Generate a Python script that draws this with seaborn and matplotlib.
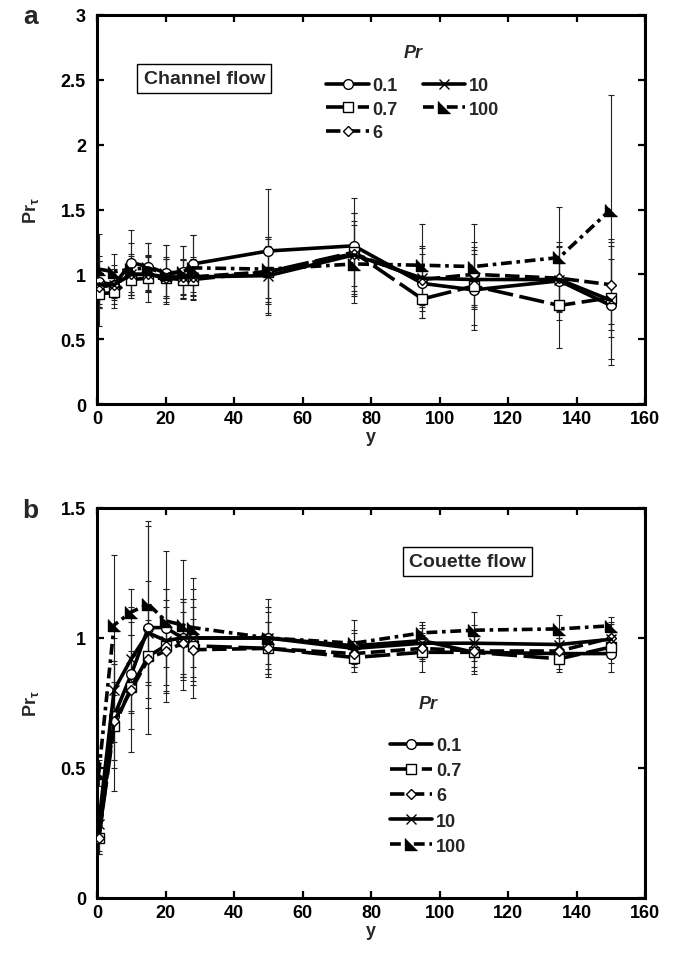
import numpy as np
import pandas as pd
import matplotlib
matplotlib.use("Agg")
import matplotlib.pyplot as plt
import seaborn as sns

# ---------------- data ----------------
pr_levels = ["0.1", "0.7", "6", "10", "100"]
y_pos = [0.5, 5, 10, 15, 20, 25, 28, 50, 75, 95, 110, 135, 150]

# (a) Channel flow
chan_01 = [0.94, 0.92, 1.09, 1.06, 1.01, 1.02, 1.08, 1.18, 1.22, 0.93, 0.88, 0.95, 0.76]
chan_07 = [0.85, 0.86, 0.96, 0.97, 0.97, 0.96, 0.96, 1.02, 1.17, 0.81, 0.91, 0.76, 0.82]
chan_6 = [0.90, 0.92, 1.00, 1.00, 0.97, 0.98, 0.98, 1.02, 1.16, 0.96, 1.00, 0.97, 0.92]
chan_10 = [0.92, 0.92, 1.00, 1.00, 0.98, 0.98, 0.98, 0.99, 1.15, 0.97, 0.96, 0.96, 0.80]
chan_100 = [1.04, 1.02, 1.04, 1.05, 1.00, 1.02, 1.05, 1.04, 1.08, 1.07, 1.06, 1.13, 1.50]

chan_err_01 = [0.20, 0.15, 0.25, 0.18, 0.22, 0.20, 0.22, 0.48, 0.37, 0.27, 0.31, 0.30, 0.46]
chan_err_07 = [0.25, 0.12, 0.14, 0.18, 0.15, 0.15, 0.15, 0.25, 0.30, 0.15, 0.30, 0.33, 0.30]
chan_err_6 = [0.15, 0.10, 0.16, 0.13, 0.15, 0.13, 0.14, 0.20, 0.25, 0.20, 0.25, 0.25, 0.35]
chan_err_10 = [0.18, 0.12, 0.14, 0.14, 0.15, 0.14, 0.15, 0.30, 0.32, 0.25, 0.20, 0.25, 0.45]
chan_err_100 = [0.27, 0.14, 0.20, 0.19, 0.23, 0.20, 0.25, 0.25, 0.30, 0.32, 0.33, 0.39, 0.88]

# (b) Couette flow
cou_01 = [0.23, 0.70, 0.86, 1.04, 1.04, 1.00, 1.00, 1.00, 0.97, 0.99, 0.945, 0.94, 0.94]
cou_07 = [0.23, 0.66, 0.81, 0.93, 0.97, 0.99, 0.97, 0.96, 0.925, 0.945, 0.945, 0.92, 0.965]
cou_6 = [0.23, 0.68, 0.80, 0.92, 0.95, 0.98, 0.955, 0.96, 0.94, 0.96, 0.95, 0.95, 1.00]
cou_10 = [0.285, 0.80, 0.92, 1.02, 0.99, 1.00, 1.00, 1.00, 0.96, 0.98, 0.98, 0.975, 0.995]
cou_100 = [0.48, 1.05, 1.10, 1.13, 1.066, 1.05, 1.04, 1.00, 0.98, 1.02, 1.03, 1.035, 1.047]

cou_err_01 = [0.06, 0.20, 0.15, 0.41, 0.15, 0.15, 0.23, 0.15, 0.06, 0.06, 0.085, 0.06, 0.07]
cou_err_07 = [0.06, 0.25, 0.25, 0.20, 0.15, 0.15, 0.15, 0.10, 0.055, 0.075, 0.07, 0.05, 0.06]
cou_err_6 = [0.05, 0.15, 0.15, 0.15, 0.195, 0.12, 0.12, 0.10, 0.05, 0.05, 0.06, 0.05, 0.06]
cou_err_10 = [0.06, 0.20, 0.20, 0.20, 0.20, 0.15, 0.15, 0.12, 0.06, 0.06, 0.07, 0.06, 0.06]
cou_err_100 = [0.05, 0.27, 0.09, 0.30, 0.27, 0.25, 0.15, 0.10, 0.09, 0.04, 0.07, 0.055, 0.035]

x_ticks = [0, 20, 40, 60, 80, 100, 120, 140, 160]
y_ticks_a = [0, 0.5, 1, 1.5, 2, 2.5, 3]
y_ticks_b = [0, 0.5, 1, 1.5]


def make_df(vals, errs):
    rows = []
    for lev, v, e in zip(pr_levels, vals, errs):
        for x, yy, ee in zip(y_pos, v, e):
            rows.append({"y": x, "Prt": yy, "err": ee, "Pr": lev})
    return pd.DataFrame(rows)


df_a = make_df([chan_01, chan_07, chan_6, chan_10, chan_100],
               [chan_err_01, chan_err_07, chan_err_6, chan_err_10, chan_err_100])
df_b = make_df([cou_01, cou_07, cou_6, cou_10, cou_100],
               [cou_err_01, cou_err_07, cou_err_6, cou_err_10, cou_err_100])

# ---------------- style ----------------
sns.set_theme(style="ticks")
plt.rcParams["font.family"] = ["Liberation Sans", "DejaVu Sans"]
plt.rcParams["font.weight"] = "bold"
plt.rcParams["mathtext.fontset"] = "custom"
plt.rcParams["mathtext.rm"] = "Liberation Sans:bold"
plt.rcParams["mathtext.it"] = "Liberation Sans:bold"
plt.rcParams["mathtext.bf"] = "Liberation Sans:bold"
plt.rcParams["mathtext.default"] = "bf"

tri = [(-1, 1), (-1, -1), (1, -1)]
styles = {
    "0.1": dict(linestyle="-", marker="o", markersize=7, markerfacecolor="white", linewidth=2.6),
    "0.7": dict(linestyle=(0, (7, 1.8)), marker="s", markersize=7, markerfacecolor="white", linewidth=2.6),
    "6": dict(linestyle=(0, (4, 1.5)), marker="D", markersize=5.5, markerfacecolor="white", linewidth=2.6),
    "10": dict(linestyle="-", marker="x", markersize=7, linewidth=2.6),
    "100": dict(linestyle=(0, (3, 1.3, 1, 1.3)), marker=tri, markersize=8, markerfacecolor="black", linewidth=2.6),
}

FS = 13
fig = plt.figure(figsize=(6.77, 9.62), dpi=100)
ax_a = fig.add_axes([97 / 677, 1 - 405 / 962, 548 / 677, 389 / 962])
ax_b = fig.add_axes([97 / 677, 1 - 899 / 962, 548 / 677, 390 / 962])


def draw(ax, df):
    handles = []
    for lev in pr_levels:
        sub = df[df["Pr"] == lev]
        ax.errorbar(sub["y"], sub["Prt"], yerr=sub["err"], fmt="none", ecolor="#222222",
                    elinewidth=0.8, capsize=2.5, capthick=0.8, zorder=1)
    for lev in pr_levels:
        sub = df[df["Pr"] == lev]
        sns.lineplot(data=sub, x="y", y="Prt", ax=ax, color="black", errorbar=None,
                     sort=False, legend=False, markeredgecolor="black", markeredgewidth=1.0,
                     zorder=3, **styles[lev])
        ln = ax.lines[-1]
        ln.set_label(lev)
        handles.append(ln)
    return handles


def style_axes(ax, yticks, ylim):
    ax.set_xlim(0, 160)
    ax.set_ylim(*ylim)
    ax.set_xticks(x_ticks)
    ax.set_yticks(yticks)
    ax.set_xticklabels([str(t) for t in x_ticks])
    ax.set_yticklabels([("%g" % t) for t in yticks])
    for s in ax.spines.values():
        s.set_linewidth(2.2)
        s.set_color("black")
    ax.tick_params(direction="in", length=5, width=1.6, top=True, right=True,
                   labelsize=FS, colors="black")
    ax.tick_params(axis="y", pad=8)
    ax.tick_params(axis="x", pad=4)
    for lab in ax.get_xticklabels() + ax.get_yticklabels():
        lab.set_fontweight("bold")
    ax.set_xlabel("y", fontsize=FS, fontweight="bold", labelpad=1)
    ax.set_ylabel(r"Pr$_{\tau}$", fontsize=FS, fontweight="bold", labelpad=14)


h_a = draw(ax_a, df_a)
style_axes(ax_a, y_ticks_a, (0, 3))
h_b = draw(ax_b, df_b)
style_axes(ax_b, y_ticks_b, (0, 1.5))

leg_kw = dict(frameon=False, fontsize=FS, handlelength=2.35, handletextpad=0.2,
              borderpad=0, borderaxespad=0, numpoints=1,
              title_fontproperties={"style": "italic", "weight": "bold", "size": FS})
leg_a = ax_a.legend(handles=h_a, labels=pr_levels, ncol=2, title="Pr", loc="upper left",
                    bbox_to_anchor=(67, 2.78), bbox_transform=ax_a.transData,
                    labelspacing=0.35, columnspacing=1.4, **leg_kw)
leg_b = ax_b.legend(handles=h_b, labels=pr_levels, ncol=1, title="Pr", loc="upper left",
                    bbox_to_anchor=(85.5, 0.78), bbox_transform=ax_b.transData,
                    labelspacing=0.45, **leg_kw)
leg_a._legend_box.sep = 12
leg_b._legend_box.sep = 18
for leg in (leg_a, leg_b):
    for t in leg.get_texts():
        t.set_fontweight("bold")

box = dict(boxstyle="square,pad=0.32", facecolor="white", edgecolor="black", linewidth=1.0)
ax_a.text(31.3, 2.51, "Channel flow", fontsize=14, fontweight="bold", ha="center", va="center", bbox=box)
ax_b.text(108.2, 1.294, "Couette flow", fontsize=14, fontweight="bold", ha="center", va="center", bbox=box)

fig.text(31 / 677, 1 - 17 / 962, "a", fontsize=19, fontweight="bold", ha="center", va="center")
fig.text(30 / 677, 1 - 511 / 962, "b", fontsize=19, fontweight="bold", ha="center", va="center")

fig.savefig("out.png", dpi=100)
